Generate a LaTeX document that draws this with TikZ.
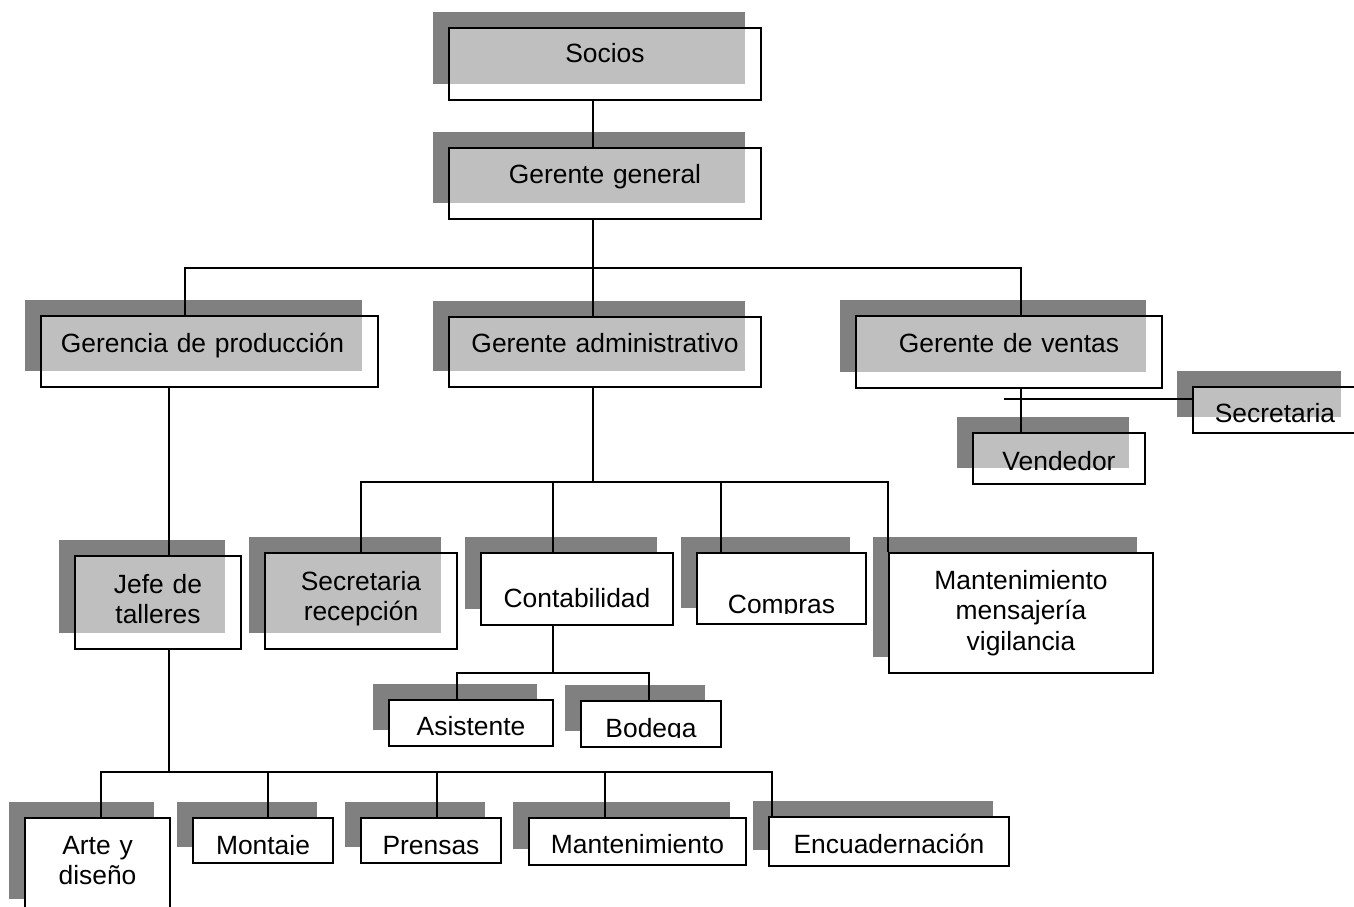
\documentclass[tikz,border=0pt]{standalone}
\usepackage{fontspec}
\setmainfont{Liberation Sans}
\usetikzlibrary{shadows}
\definecolor{sombra}{HTML}{808080}
\tikzset{
    caja/.style = {draw, line width=1.7pt, fill=white, anchor=base, align=center, inner sep=0pt,
        font=\fontsize{26.4}{30.5}\selectfont,
        general shadow={fill=sombra, fill opacity=1, shadow xshift=-16pt, shadow yshift=16pt}},
    caja gris/.style = {caja, fill opacity=0.5, text opacity=1},
    conector/.style = {draw, line width=1.7pt},
}

\begin{document}
\begin{tikzpicture}[x=1pt, y=-1pt]
    \useasboundingbox (0,0) rectangle (1354,907);

    \node[caja gris, text width=312pt, text height=35pt, text depth=37pt] (socios) at (605,63) {Socios};
    \node[caja gris, text width=312pt, text height=35pt, text depth=36pt] (general) at (605,183) {Gerente general};
    \node[caja gris, text width=337pt, text height=36pt, text depth=35pt] (produccion) at (209.5,352) {Gerencia de producción\rule{14pt}{0pt}};
    \node[caja gris, text width=312pt, text height=35pt, text depth=35pt] (administrativo) at (605,352) {Gerente administrativo};
    \node[caja gris, text width=306pt, text height=36pt, text depth=36pt] (ventas) at (1009,352) {Gerente de ventas};
    \node[caja gris, text width=164pt, text height=35pt, text depth=11pt] (secretaria) at (1275,422) {Secretaria};
    \node[caja gris, text width=172pt, text height=37pt, text depth=14pt] (vendedor) at (1059,470) {Vendedor};
    \node[caja gris, text width=166pt, text height=37pt, text depth=56pt] (jefe) at (158,593) {Jefe de\\talleres};
    \node[caja gris, text width=192pt, text height=37pt, text depth=59pt] (recepcion) at (361,590) {Secretaria\\recepción};
    \node[caja, text width=192pt, text height=54pt, text depth=18pt] (contabilidad) at (577,607) {Contabilidad};
    \node[caja, text width=169pt, text height=60pt, text depth=11pt] (compras) at (781.5,613) {Compras};
    \node[caja, text width=264pt, text height=36pt, text depth=84pt] (servicios) at (1021,589) {Mantenimiento\\mensajería\\vigilancia};
    \node[caja, text width=164pt, text height=35pt, text depth=11pt] (asistente) at (471,735) {Asistente};
    \node[caja, text width=140pt, text height=36pt, text depth=10pt] (bodega) at (651,737) {Bodega};
    \node[caja, text width=145pt, text height=36pt, text depth=61pt] (arte) at (97.5,854) {Arte y\\diseño};
    \node[caja, text width=140pt, text height=36pt, text depth=9pt] (montaje) at (263,854) {Montaje};
    \node[caja, text width=140pt, text height=36pt, text depth=9pt] (prensas) at (431,854) {Prensas};
    \node[caja, text width=217pt, text height=35pt, text depth=12pt] (mantenimiento) at (637.5,853) {Mantenimiento};
    \node[caja, text width=240pt, text height=36pt, text depth=13pt] (encuadernacion) at (889,853) {Encuadernación};

    \foreach \n in {compras, asistente, bodega, montaje}
        \fill[white] ([xshift=2pt, yshift=2pt]\n.south west) rectangle ([xshift=-2pt, yshift=-1pt]\n.base east);

    \coordinate (bus1) at (593,268);
    \coordinate (bus2) at (593,482);
    \coordinate (bus3) at (553,673);
    \coordinate (bus4) at (169,772);
    \coordinate (ramal) at (1004,399);
    \coordinate (eje) at ([xshift=11]jefe.north);

    \draw[conector] ([xshift=-12]socios.south) -- ([xshift=-12]general.north);
    \draw[conector] ([xshift=-12]general.south) -- ([xshift=-12]administrativo.north);
    \draw[conector] ([xshift=-24.5]produccion.north) |- (bus1) -| ([xshift=12]ventas.north);
    \draw[conector] (produccion.south -| eje) -- (eje);
    \draw[conector] (jefe.south -| eje) -- (bus4);
    \draw[conector] ([xshift=-12]administrativo.south) -- (bus2);
    \draw[conector] (recepcion.north) |- (bus2) -| (servicios.north west);
    \draw[conector] ([xshift=-24]contabilidad.north) -- ([xshift=-24]contabilidad.north |- bus2);
    \draw[conector] ([xshift=-60.5]compras.north) -- ([xshift=-60.5]compras.north |- bus2);
    \draw[conector] ([xshift=-24]contabilidad.south) -- (bus3);
    \draw[conector] ([xshift=-14]asistente.north) |- (bus3) -| ([xshift=-2]bodega.north);
    \draw[conector] ([xshift=3.5]arte.north) |- (bus4) -| ([xshift=4]encuadernacion.north west);
    \foreach \n/\dx in {montaje/5, prensas/6, mantenimiento/-32.5}
        \draw[conector] ([xshift=\dx]\n.north) -- ([xshift=\dx]\n.north |- bus4);
    \draw[conector] ([xshift=12]ventas.south) -- ([xshift=-38]vendedor.north);
    \draw[conector] (ramal) -- (ramal -| secretaria.west);
\end{tikzpicture}
\end{document}
